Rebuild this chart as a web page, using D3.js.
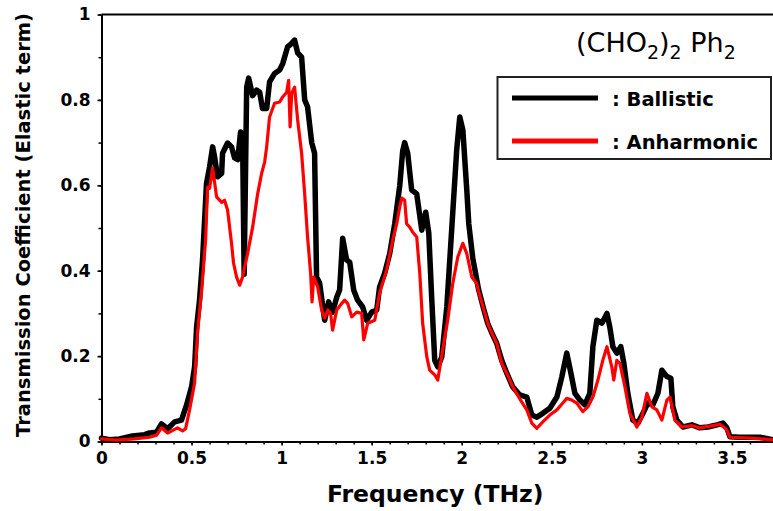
<!DOCTYPE html>
<html>
<head>
<meta charset="utf-8">
<script src="https://cdn.jsdelivr.net/npm/d3@7/dist/d3.min.js"></script>
<style>
  html, body { margin: 0; padding: 0; background: #fff; }
  svg { display: block; }
  text { font-family: "DejaVu Sans", Verdana, sans-serif; }
</style>
</head>
<body>
<svg id="chart" width="773" height="511"></svg>
<script>
// ---- Data (frequency in THz, transmission coefficient) ----
const ballisticData = [
  [0.000,0.008],[0.044,0.004],[0.100,0.006],[0.172,0.013],[0.239,0.016],[0.267,0.020],
  [0.306,0.022],[0.333,0.041],[0.367,0.030],[0.406,0.046],[0.444,0.050],[0.472,0.085],
  [0.500,0.128],[0.517,0.175],[0.528,0.268],[0.544,0.330],[0.561,0.425],[0.583,0.605],
  [0.600,0.643],[0.617,0.690],[0.628,0.666],[0.644,0.620],[0.667,0.628],[0.672,0.675],
  [0.700,0.699],[0.722,0.690],[0.739,0.664],[0.756,0.660],[0.772,0.725],[0.783,0.720],
  [0.792,0.392],[0.806,0.830],[0.817,0.851],[0.839,0.810],[0.861,0.823],[0.878,0.818],
  [0.894,0.780],[0.917,0.780],[0.933,0.842],[0.961,0.862],[0.989,0.870],[1.006,0.885],
  [1.033,0.924],[1.050,0.930],[1.072,0.940],[1.089,0.910],[1.111,0.900],[1.128,0.800],
  [1.144,0.784],[1.167,0.700],[1.183,0.675],[1.194,0.385],[1.211,0.371],[1.239,0.284],
  [1.261,0.327],[1.283,0.303],[1.306,0.338],[1.322,0.355],[1.339,0.476],[1.361,0.425],
  [1.378,0.420],[1.400,0.355],[1.422,0.331],[1.450,0.315],[1.472,0.284],[1.500,0.303],
  [1.528,0.308],[1.544,0.362],[1.572,0.394],[1.600,0.440],[1.628,0.510],[1.656,0.600],
  [1.672,0.680],[1.683,0.700],[1.700,0.675],[1.722,0.589],[1.750,0.580],[1.778,0.495],
  [1.800,0.537],[1.817,0.488],[1.833,0.338],[1.850,0.190],[1.867,0.175],[1.889,0.198],
  [1.917,0.315],[1.944,0.495],[1.972,0.683],[1.989,0.760],[2.006,0.730],[2.028,0.589],
  [2.039,0.510],[2.061,0.430],[2.094,0.355],[2.122,0.310],[2.144,0.277],[2.167,0.254],
  [2.194,0.230],[2.222,0.190],[2.250,0.160],[2.283,0.128],[2.322,0.109],[2.361,0.104],
  [2.389,0.062],[2.417,0.057],[2.450,0.066],[2.489,0.078],[2.528,0.104],[2.556,0.152],
  [2.583,0.207],[2.606,0.160],[2.628,0.113],[2.656,0.097],[2.683,0.086],[2.711,0.113],
  [2.728,0.222],[2.750,0.284],[2.778,0.277],[2.806,0.300],[2.822,0.268],[2.839,0.222],
  [2.861,0.207],[2.883,0.222],[2.900,0.183],[2.922,0.113],[2.950,0.050],[2.978,0.043],
  [3.006,0.066],[3.033,0.090],[3.061,0.086],[3.089,0.113],[3.111,0.167],[3.139,0.152],
  [3.161,0.148],[3.172,0.081],[3.194,0.050],[3.228,0.034],[3.278,0.039],[3.322,0.032],
  [3.367,0.034],[3.417,0.039],[3.450,0.043],[3.472,0.032],[3.489,0.011],[3.544,0.010],
  [3.656,0.010],[3.728,0.004]
];
const anharmonicData = [
  [0.000,0.006],[0.083,0.003],[0.183,0.006],[0.267,0.010],[0.306,0.015],[0.333,0.032],
  [0.367,0.020],[0.422,0.032],[0.450,0.025],[0.467,0.030],[0.489,0.074],[0.517,0.137],
  [0.533,0.254],[0.556,0.355],[0.578,0.472],[0.589,0.596],[0.600,0.593],[0.617,0.640],
  [0.639,0.573],[0.667,0.560],[0.683,0.565],[0.700,0.542],[0.722,0.464],[0.733,0.418],
  [0.750,0.385],[0.767,0.366],[0.783,0.385],[0.811,0.440],[0.839,0.502],[0.867,0.580],
  [0.889,0.628],[0.906,0.655],[0.917,0.690],[0.933,0.760],[0.961,0.792],[0.989,0.795],
  [1.006,0.807],[1.028,0.818],[1.039,0.846],[1.047,0.737],[1.056,0.815],[1.072,0.830],
  [1.089,0.753],[1.111,0.675],[1.128,0.580],[1.144,0.479],[1.161,0.394],[1.169,0.327],
  [1.178,0.385],[1.200,0.362],[1.222,0.308],[1.239,0.289],[1.256,0.308],[1.272,0.300],
  [1.283,0.261],[1.306,0.308],[1.333,0.323],[1.350,0.331],[1.367,0.323],[1.389,0.292],
  [1.417,0.303],[1.444,0.300],[1.456,0.238],[1.478,0.277],[1.517,0.284],[1.544,0.347],
  [1.583,0.402],[1.617,0.472],[1.639,0.510],[1.656,0.550],[1.667,0.570],[1.683,0.565],
  [1.694,0.510],[1.711,0.502],[1.728,0.490],[1.750,0.479],[1.767,0.394],[1.783,0.277],
  [1.806,0.198],[1.822,0.167],[1.850,0.156],[1.867,0.144],[1.894,0.214],[1.922,0.284],
  [1.950,0.370],[1.978,0.432],[2.006,0.464],[2.028,0.440],[2.056,0.385],[2.083,0.370],
  [2.094,0.350],[2.122,0.310],[2.144,0.277],[2.167,0.254],[2.194,0.230],[2.222,0.183],
  [2.250,0.160],[2.283,0.128],[2.322,0.100],[2.361,0.074],[2.389,0.043],[2.417,0.031],
  [2.450,0.046],[2.489,0.062],[2.528,0.074],[2.561,0.090],[2.583,0.101],[2.611,0.097],
  [2.639,0.090],[2.672,0.070],[2.700,0.081],[2.728,0.104],[2.756,0.144],[2.783,0.190],
  [2.806,0.222],[2.833,0.175],[2.844,0.144],[2.861,0.190],[2.878,0.183],[2.906,0.128],
  [2.933,0.066],[2.972,0.034],[3.000,0.057],[3.028,0.113],[3.056,0.081],[3.083,0.074],
  [3.111,0.050],[3.139,0.097],[3.156,0.104],[3.183,0.050],[3.222,0.034],[3.278,0.037],
  [3.322,0.032],[3.378,0.036],[3.433,0.040],[3.467,0.030],[3.489,0.010],[3.600,0.008],
  [3.728,0.004]
];
const xMajorTicks = [0, 0.5, 1, 1.5, 2, 2.5, 3, 3.5];
const xMajorLabels = ["0", "0.5", "1", "1.5", "2", "2.5", "3", "3.5"];
const yMajorTicks = [0, 0.2, 0.4, 0.6, 0.8, 1];
const yMajorLabels = ["0", "0.2", "0.4", "0.6", "0.8", "1"];
const xMinorTicks = d3.range(0, 37).map(i => i / 10);
const yMinorTicks = d3.range(0, 11).map(i => i / 10);
const seriesNames = [": Ballistic", ": Anharmonic"];
const xTitle = "Frequency (THz)";
const yTitle = "Transmission Coefficient (Elastic term)";

// ---- Layout ----
const svg = d3.select("#chart");
const W = 773, H = 511;
const mLeft = 101.5, mRight = 773, mTop = 14.5, mBottom = 441.5;
const x = d3.scaleLinear().domain([0, 3.728]).range([mLeft, mRight]);
const y = d3.scaleLinear().domain([0, 1]).range([mBottom, mTop]);

svg.append("rect").attr("width", W).attr("height", H).attr("fill", "#fff");

// Top frame line
svg.append("line")
  .attr("x1", mLeft).attr("x2", mRight).attr("y1", mTop).attr("y2", mTop)
  .attr("stroke", "#000").attr("stroke-width", 2);

// Minor ticks
const yMinor = svg.append("g").attr("transform", `translate(${mLeft},0)`)
  .call(d3.axisLeft(y).tickValues(yMinorTicks).tickSize(3).tickFormat(""));
const xMinor = svg.append("g").attr("transform", `translate(0,${mBottom})`)
  .call(d3.axisBottom(x).tickValues(xMinorTicks).tickSize(3).tickFormat(""));
[yMinor, xMinor].forEach(g => {
  g.select(".domain").remove();
  g.selectAll("line").attr("stroke", "#000").attr("stroke-width", 1.5);
});

// Major axes
const yAxis = svg.append("g").attr("transform", `translate(${mLeft},0)`)
  .call(d3.axisLeft(y).tickValues(yMajorTicks).tickSize(4).tickSizeOuter(0)
    .tickPadding(7).tickFormat((d, i) => yMajorLabels[i]));
const xAxis = svg.append("g").attr("transform", `translate(0,${mBottom})`)
  .call(d3.axisBottom(x).tickValues(xMajorTicks).tickSize(4).tickSizeOuter(0)
    .tickPadding(6).tickFormat((d, i) => xMajorLabels[i]));
[yAxis, xAxis].forEach(g => {
  g.select(".domain").attr("stroke", "#000").attr("stroke-width", 2);
  g.selectAll("line").attr("stroke", "#000").attr("stroke-width", 1.5);
  g.selectAll("text").attr("fill", "#000")
    .style("font-family", '"DejaVu Sans", Verdana, sans-serif')
    .style("font-size", "17px").style("font-weight", "bold");
});

// Lines
const line = d3.line().x(d => x(d[0])).y(d => y(d[1])).curve(d3.curveLinear);
const plot = svg.append("g");
plot.append("path").datum(ballisticData)
  .attr("d", line).attr("fill", "none").attr("stroke", "#000")
  .attr("stroke-width", 5.5).attr("stroke-linejoin", "round").attr("stroke-linecap", "round");
plot.append("path").datum(anharmonicData)
  .attr("d", line).attr("fill", "none").attr("stroke", "#ff0000")
  .attr("stroke-width", 3.2).attr("stroke-linejoin", "round").attr("stroke-linecap", "round");

// Axis titles
svg.append("text")
  .attr("x", (mLeft + mRight) / 2 - 2).attr("y", 502)
  .attr("text-anchor", "middle")
  .style("font-size", "23.5px").style("font-weight", "bold")
  .text(xTitle);
svg.append("text")
  .attr("transform", "translate(30,225) rotate(-90)")
  .attr("text-anchor", "middle")
  .style("font-size", "19.5px").style("font-weight", "bold")
  .text(yTitle);

// Compound label
const t = svg.append("text").attr("x", 576).attr("y", 52)
  .style("font-size", "27px");
t.append("tspan").text("(CHO");
t.append("tspan").attr("dy", 7).style("font-size", "19px").text("2");
t.append("tspan").attr("dy", -7).text(")");
t.append("tspan").attr("dy", 7).style("font-size", "19px").text("2");
t.append("tspan").attr("dy", -7).text(" Ph");
t.append("tspan").attr("dy", 7).style("font-size", "19px").text("2");

// Legend
const lg = svg.append("g");
lg.append("rect").attr("x", 497.5).attr("y", 77).attr("width", 273.5).attr("height", 82)
  .attr("fill", "#fff").attr("stroke", "#222").attr("stroke-width", 2);
const legendColors = ["#000", "#ff0000"];
const legendY = [98, 141];
seriesNames.forEach((name, i) => {
  lg.append("line").attr("x1", 512).attr("x2", 598)
    .attr("y1", legendY[i]).attr("y2", legendY[i])
    .attr("stroke", legendColors[i]).attr("stroke-width", 5);
  lg.append("text").attr("x", 612).attr("y", legendY[i] + 7.5)
    .style("font-size", "19.5px").style("font-weight", "bold")
    .text(name);
});
</script>
</body>
</html>
